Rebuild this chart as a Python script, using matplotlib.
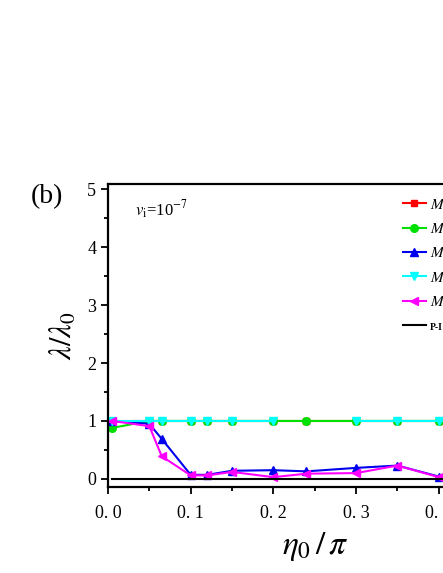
import matplotlib
matplotlib.use('Agg')
import matplotlib.pyplot as plt
from matplotlib.ticker import MultipleLocator, FixedLocator, FixedFormatter
import numpy as np

plt.rcParams['font.family'] = ['Liberation Serif', 'DejaVu Serif']
plt.rcParams['mathtext.fontset'] = 'stix'

# eta_0/pi sample points
eta = [0.005, 0.05, 0.065, 0.1, 0.12, 0.15, 0.2, 0.24, 0.3, 0.35, 0.4, 0.45, 0.5]

# lambda/lambda_0 for each case (nan = no point)
lam_red = [1.0, 1.0, 1.0, 1.0, 1.0, 1.0, 1.0, 1.0, 1.0, 1.0, 1.0, 1.0, 1.0]
lam_green = [0.88, 1.0, 1.0, 1.0, 1.0, 1.0, 1.0, 1.0, 1.0, 1.0, 1.0, 1.0, 1.0]
lam_blue = [1.0, 0.95, 0.69, 0.07, 0.07, 0.14, 0.15, 0.13, 0.19, 0.23, 0.04, 0.05, 0.05]
lam_cyan = [1.0, 1.0, 1.0, 1.0, 1.0, 1.0, 1.0, np.nan, 1.0, 1.0, 1.0, 1.0, 1.0]
lam_magenta = [1.0, 0.91, 0.39, 0.06, 0.06, 0.12, 0.03, 0.09, 0.10, 0.23, 0.03, 0.04, 0.04]

# P-I reference line
pi_x = [0.005, 0.5]
pi_y = [0.0, 0.0]

labels = ['$M$=1', '$M$=2', '$M$=3', '$M$=4', '$M$=5', 'P-I']
xtick_vals = [0.0, 0.1, 0.2, 0.3, 0.4, 0.5]
xtick_labels = ['0. 0', '0. 1', '0. 2', '0. 3', '0. 4', '0. 5']

fig = plt.figure(figsize=(4.43, 5.73), dpi=100)
ax = fig.add_axes([108/443, 86/573, 413.5/443, 303/573])

ax.plot(eta, lam_red, '-s', color='red', lw=1.5, ms=5, label=labels[0])
ax.plot(eta, lam_green, '-o', color='#00e000', lw=1.5, ms=5.5, label=labels[1])
ax.plot(eta, lam_blue, '-^', color='#0000ee', lw=1.5, ms=6, label=labels[2])
ax.plot(eta, lam_cyan, '-v', color='cyan', lw=1.5, ms=6, label=labels[3])
ax.plot(eta, lam_magenta, '-<', color='magenta', lw=1.5, ms=6, label=labels[4])
ax.plot(pi_x, pi_y, '-', color='black', lw=1.5, label=labels[5])

ax.set_xlim(0, 0.5)
ax.set_ylim(-0.14, 5.09)
ax.xaxis.set_major_locator(FixedLocator(xtick_vals))
ax.xaxis.set_major_formatter(FixedFormatter(xtick_labels))
ax.xaxis.set_minor_locator(MultipleLocator(0.05))
ax.yaxis.set_major_locator(MultipleLocator(1))
ax.yaxis.set_minor_locator(MultipleLocator(0.5))
ax.tick_params(which='both', direction='out', width=1.3, top=False, right=False)
ax.tick_params(which='major', length=5, labelsize=13)
ax.tick_params(which='minor', length=3)
ax.tick_params(axis='x', pad=8)
for s in ax.spines.values():
    s.set_linewidth(1.6)

ax.set_xlabel(r'$\eta_0\,/\,\pi$', fontsize=24, labelpad=6)
ax.set_ylabel(r'$\lambda/\lambda_0$', fontsize=22, labelpad=6)

ax.text(0.065, 0.915, r'$v_{\rm i}$=10$^{-7}$', transform=ax.transAxes,
        fontsize=12, va='center')
fig.text(47/443, 1 - 197/573, '(b)', fontsize=20, ha='center', va='center')

leg = ax.legend(loc='upper left', bbox_to_anchor=(0.713, 0.955), frameon=False,
                fontsize=11, borderpad=0, borderaxespad=0, handlelength=1.5,
                handletextpad=0.25, labelspacing=0.68)
leg.get_texts()[-1].set_fontsize(7)
leg.get_texts()[-1].set_fontweight('bold')

fig.savefig('out.png', dpi=100)
